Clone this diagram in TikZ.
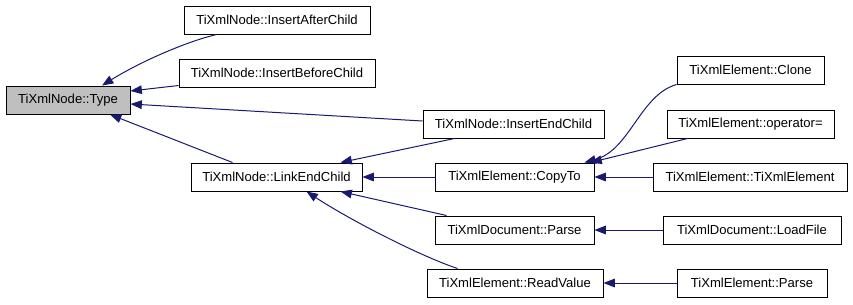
\documentclass[tikz,border=0pt]{standalone}
\usepackage{fontspec}
\setmainfont{Liberation Sans}
\usetikzlibrary{arrows.meta,positioning,calc}
\definecolor{edgeblue}{RGB}{25,25,112}
\definecolor{typegray}{RGB}{191,191,191}

\begin{document}
\begin{tikzpicture}[x=0.75pt,y=-0.75pt,
	fn/.style={draw=black,line width=0.75pt,minimum height=21pt,inner sep=0pt,font=\fontsize{9.8}{12}\selectfont},
	call/.style={draw=edgeblue,line width=0.75pt,-{Triangle[length=8.5pt,width=6.5pt]}}]
						\useasboundingbox (0,0) rectangle (853,304);
						% first column
						\node[fn,fill=typegray,minimum width=93pt] (type) at (68,100) {TiXmlNode::Type};
						% second column
						\node[fn,minimum width=139.5pt] (after) at (277,20) {TiXmlNode::InsertAfterChild};
						\node[fn,minimum width=147pt] (before) at (277,73) {TiXmlNode::InsertBeforeChild};
						\node[fn,minimum width=128.25pt] (link) at (276.5,177) {TiXmlNode::LinkEndChild};
						% third column
						\node[fn,minimum width=135.75pt] (endchild) at (513.5,124) {TiXmlNode::InsertEndChild};
						\node[fn,minimum width=119.25pt] (copyto) at (514.5,177) {TiXmlElement::CopyTo};
						\node[fn,minimum width=119.25pt] (docparse) at (514.5,230) {TiXmlDocument::Parse};
						\node[fn,minimum width=132pt] (readvalue) at (515,283) {TiXmlElement::ReadValue};
						% fourth column
						\node[fn,minimum width=110.25pt] (clone) at (750.5,70) {TiXmlElement::Clone};
						\node[fn,minimum width=125.25pt] (assign) at (750.5,124) {TiXmlElement::operator=};
						\node[fn,minimum width=145.5pt] (ctor) at (750,177) {TiXmlElement::TiXmlElement};
						\node[fn,minimum width=133.5pt] (loadfile) at (752,230) {TiXmlDocument::LoadFile};
						\node[fn,minimum width=112.5pt] (elemparse) at (752,283) {TiXmlElement::Parse};
						% calls into Type
						\draw[call] ($(after.south west)+(33,0)$) .. controls (185,42) and (140,62) .. ($(type.north)+(34,0)$);
						\draw[call] ($(before.south west)+(0,-2)$) -- ($(type.east)+(0,-9)$);
						\draw[call] ($(endchild.west)+(0,-3)$) -- ($(type.east)+(0,4)$);
						\draw[call] ($(link.north west)+(42,0)$) -- ($(type.south)+(42,0)$);
						% calls into LinkEndChild
						\draw[call] ($(endchild.south west)+(32,0)$) -- ($(link.north)+(64,0)$);
						\draw[call] (copyto) -- (link);
						\draw[call] ($(docparse.north west)+(12,0)$) -- ($(link.south)+(64,0)$);
						\draw[call] ($(readvalue.north west)+(31,0)$) .. controls (420,256) and (350,220) .. ($(link.south)+(30,0)$);
						% calls into CopyTo
						\draw[call] (clone.south west) .. controls (640,95) and (630,150) .. ($(copyto.north)+(70,0)$);
						\draw[call] ($(assign.south west)+(21,0)$) -- ($(copyto.north)+(76,0)$);
						\draw[call] (ctor) -- (copyto);
						% remaining calls
						\draw[call] (loadfile) -- (docparse);
						\draw[call] (elemparse) -- (readvalue);
					\end{tikzpicture}
\end{document}
